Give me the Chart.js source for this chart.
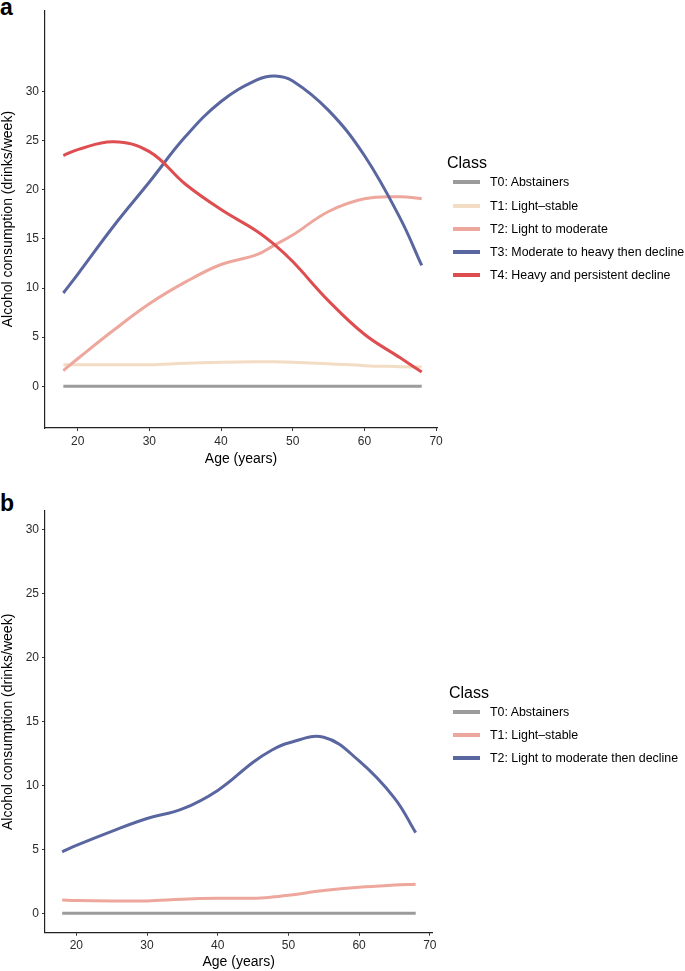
<!DOCTYPE html>
<html>
<head>
<meta charset="utf-8">
<title>Alcohol consumption trajectories</title>
<script src="https://cdn.jsdelivr.net/npm/chart.js@4.4.1/dist/chart.umd.min.js"></script>
<style>
  body { margin: 0; background: #fff; font-family: 'Liberation Sans', Arial, Helvetica, sans-serif; }
  #page { position: relative; width: 685px; height: 971px; overflow: hidden; }
  canvas { position: absolute; left: 0; }
  .tag { position: absolute; left: 0; font-weight: bold; font-size: 23px; line-height: 23px; color: #000; }
  .lg-title { position: absolute; font-size: 16px; line-height: 16px; color: #000; }
  .lg-swatch { position: absolute; width: 27px; height: 4px; }
  .lg-text { position: absolute; font-size: 12.4px; line-height: 14px; color: #000; white-space: nowrap; }
</style>
</head>
<body>
<div id="page">
  <div class="tag" style="top:-4px">a</div>
  <canvas id="chartA" width="685" height="480" style="top:0"></canvas>
  <div class="tag" style="top:492px">b</div>
  <canvas id="chartB" width="685" height="491" style="top:480px"></canvas>
  <div id="legendA"></div>
  <div id="legendB"></div>
</div>
<script>
const ages = [18, 20, 25, 30, 35, 40, 45, 47.5, 50, 55, 60, 65, 68];
const xTicks = [20, 30, 40, 50, 60, 70];
const yTicks = [0, 5, 10, 15, 20, 25, 30];

// panel a: five classes
const aLabels = ['T0: Abstainers', 'T1: Light\u2013stable', 'T2: Light to moderate',
  'T3: Moderate to heavy then decline', 'T4: Heavy and persistent decline'];
const aColors = ['#9b9b9b', '#f3dcc4', '#eea79d', '#5a66a0', '#de4d50'];
const aT0 = [0, 0, 0, 0, 0, 0, 0, 0, 0, 0, 0, 0, 0];
const aT1 = [2.2, 2.2, 2.2, 2.2, 2.35, 2.45, 2.5, 2.5, 2.45, 2.3, 2.1, 2.0, 1.95];
const aT2 = [1.6, 2.8, 5.7, 8.4, 10.6, 12.4, 13.4, 14.4, 15.4, 17.8, 19.1, 19.3, 19.1];
const aT3 = [9.5, 11.4, 16.3, 20.8, 25.4, 29.0, 31.2, 31.6, 31.1, 28.1, 23.5, 17.1, 12.3];
const aT4 = [23.5, 24.1, 24.9, 23.9, 20.6, 18.0, 15.8, 14.4, 12.7, 8.7, 5.3, 2.9, 1.45];

// panel b: three classes
const bLabels = ['T0: Abstainers', 'T1: Light\u2013stable', 'T2: Light to moderate then decline'];
const bColors = ['#9b9b9b', '#eea79d', '#5a66a0'];
const bT0 = [0, 0, 0, 0, 0, 0, 0, 0, 0, 0, 0, 0, 0];
const bT1 = [1.04, 1.0, 0.96, 0.96, 1.1, 1.17, 1.17, 1.25, 1.4, 1.77, 2.03, 2.2, 2.27];
const bT2 = [4.8, 5.3, 6.4, 7.4, 8.15, 9.6, 11.8, 12.7, 13.3, 13.75, 11.9, 9.0, 6.3];

Chart.defaults.font.family = "'Liberation Sans', Arial, Helvetica, sans-serif";

function buildChart(id, series, labels, colors, box) {
  return new Chart(document.getElementById(id), {
    type: 'line',
    data: {
      datasets: series.map((s, i) => ({
        label: labels[i],
        data: s.map((v, j) => ({ x: ages[j], y: v })),
        borderColor: colors[i],
        borderWidth: 3,
        pointRadius: 0,
        tension: 0.4,
        fill: false
      })).reverse()
    },
    options: {
      responsive: false,
      animation: false,
      layout: { padding: { top: box.top, right: box.right, left: 0, bottom: 0 } },
      plugins: { legend: { display: false }, tooltip: { enabled: false } },
      scales: {
        x: {
          type: 'linear',
          min: box.xMin,
          max: box.xMax,
          afterBuildTicks: s => { s.ticks = xTicks.map(v => ({ value: v })); },
          afterFit: s => { s.height = box.xHeight; },
          grid: { drawOnChartArea: false, color: '#333', tickLength: 3, tickWidth: 1 },
          border: { color: '#222', width: 1.2 },
          ticks: { color: '#2b2b2b', font: { size: 12 }, padding: 3, maxRotation: 0 },
          title: { display: true, text: 'Age (years)', color: '#000', font: { size: 14 },
                   padding: { top: 0, bottom: box.xTitlePad } }
        },
        y: {
          type: 'linear',
          min: box.yMin,
          max: box.yMax,
          afterBuildTicks: s => { s.ticks = yTicks.map(v => ({ value: v })); },
          afterFit: s => { s.width = 45; },
          grid: { drawOnChartArea: false, color: '#333', tickLength: 3, tickWidth: 1 },
          border: { color: '#222', width: 1.2 },
          ticks: { color: '#2b2b2b', font: { size: 12 }, padding: 3 },
          title: { display: true, text: 'Alcohol consumption (drinks/week)', color: '#000',
                   font: { size: 14 }, padding: { top: 0, bottom: 0 } }
        }
      }
    }
  });
}

function buildLegend(id, labels, colors, left, titleY, firstY, step) {
  const el = document.getElementById(id);
  let html = `<div class="lg-title" style="left:${left}px;top:${titleY - 8}px">Class</div>`;
  labels.forEach((lab, i) => {
    const cy = firstY + i * step;
    html += `<div class="lg-swatch" style="left:453px;top:${cy - 2}px;background:${colors[i]}"></div>`;
    html += `<div class="lg-text" style="left:490px;top:${cy - 7}px">${lab}</div>`;
  });
  el.innerHTML = html;
}

buildChart('chartA', [aT0, aT1, aT2, aT3, aT4], aLabels, aColors, {
  top: 7, right: 248, xHeight: 52, xTitlePad: 12,
  xMin: 15.44, xMax: 70.13, yMin: -4.25, yMax: 38.3
});
buildChart('chartB', [bT0, bT1, bT2], bLabels, bColors, {
  top: 31, right: 252.7, xHeight: 38.3, xTitlePad: 0,
  xMin: 15.57, xMax: 70.35, yMin: -1.52, yMax: 31.43
});

buildLegend('legendA', aLabels, aColors, 447, 163, 182.3, 23.2);
buildLegend('legendB', bLabels, bColors, 449, 693, 711.7, 23);
</script>
</body>
</html>
